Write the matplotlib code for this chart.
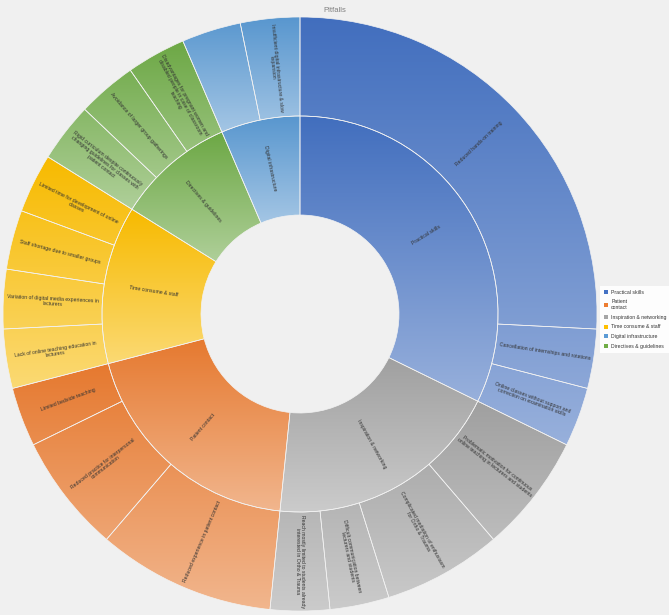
import numpy as np
import matplotlib.pyplot as plt
from matplotlib.patches import Wedge, Patch
from matplotlib.colors import to_rgb
from matplotlib.transforms import Bbox

plt.rcParams['font.family'] = ['Liberation Sans', 'DejaVu Sans']

title = "Pitfalls"

# clockwise from 12 o'clock
categories = ["Practical skills", "Inspiration & networking", "Patient contact",
              "Time consume & staff", "Directives & guidelines", "Digital infrastructure"]

sub_labels = [
    ["Reduced hands-on training",
     "Cancellation of internships and rotations",
     "Online classes without support and\ncorrection on examination skills"],
    ["Problematic motivation for continuous\nonline teaching in lecturers and students",
     "Complicated mediation of enthusiasm\nfor Ortho & Trauma",
     "Difficult communication between\nlecturers and students",
     "Reach mostly limited to students already\ninterested in Ortho & Trauma"],
    ["Reduced experience in patient contact",
     "Reduced practice for interpersonal\ncommunication",
     "Limited bedside teaching"],
    ["Lack of online teaching education in\nlecturers",
     "Variation of digital media experiences in\nlecturers",
     "Staff shortage due to smaller groups",
     "Limited time for development of online\nclasses"],
    ["Rigid curriculum despite continuously\nchanging guidelines for classes with\npatient contact",
     "Avoidance of larger group gatherings",
     "Disadvantages for pregnant women and\ndisabled people in case of classroom\nteaching"],
    ["",
     "Insufficient digital infrastructure & slow\nexpansion"],
]

sub_values = [
    [8, 1, 1],
    [2, 2, 1, 1],
    [3, 2, 1],
    [1, 1, 1, 1],
    [1, 1, 1],
    [1, 1],
]

cat_colors = {
    "Practical skills": "#4472C4",
    "Patient contact": "#ED7D31",
    "Inspiration & networking": "#A5A5A5",
    "Time consume & staff": "#FFC000",
    "Digital infrastructure": "#5B9BD5",
    "Directives & guidelines": "#70AD47",
}

legend_order = ["Practical skills", "Patient contact", "Inspiration & networking",
                "Time consume & staff", "Digital infrastructure", "Directives & guidelines"]
legend_labels = ["Practical skills", "Patient\ncontact", "Inspiration & networking",
                 "Time consume & staff", "Digital infrastructure", "Directives & guidelines"]

R_HOLE, R_MID, R_OUT = 99, 198, 297
TXT = "#333333"
FS = 3.7


def gradient_fill(ax, wedges, color):
    # one top-to-bottom gradient shared by a group of wedges
    bb = Bbox.union([w.get_path().get_extents() for w in wedges])
    top = np.array(to_rgb(color)) * 0.97
    bottom = top + (1 - top) * 0.45
    t = np.linspace(0, 1, 64)[:, None]
    img = (1 - t) * top + t * bottom
    for w in wedges:
        im = ax.imshow(img[:, None, :], extent=[bb.x0, bb.x1, bb.y0, bb.y1],
                       origin='upper', aspect='auto', interpolation='bilinear', zorder=2)
        im.set_clip_path(w)


def make_wedge(ax, r, w, t1, t2):
    wedge = Wedge((0, 0), r, t1, t2, width=w, facecolor='none',
                  edgecolor='#f2f2f2', lw=0.5, zorder=3)
    ax.add_patch(wedge)
    return wedge


def put_label(ax, text, r, t1, t2):
    mid = (t1 + t2) / 2
    a = np.deg2rad(mid)
    if -90 <= mid <= 90:
        rot = mid
    elif mid < -90:
        rot = mid + 180
    else:
        rot = mid - 180
    ax.text(r * np.cos(a), r * np.sin(a), text, ha='center', va='center',
            rotation=rot, rotation_mode='anchor', fontsize=FS, color=TXT,
            multialignment='center', linespacing=1.0, zorder=4)


fig = plt.figure(figsize=(6.69, 6.15), dpi=100)
fig.patch.set_facecolor('#F0F0F0')
ax = fig.add_axes([0, 0, 1, 1])

total = sum(sum(v) for v in sub_values)
unit = 360.0 / total

start = 90.0
for cat, labels, vals in zip(categories, sub_labels, sub_values):
    color = cat_colors[cat]
    c_end = start - sum(vals) * unit
    inner = make_wedge(ax, R_MID, R_MID - R_HOLE, c_end, start)
    gradient_fill(ax, [inner], color)
    put_label(ax, cat, (R_MID + R_HOLE) / 2, c_end, start)
    s = start
    outer = []
    for lab, v in zip(labels, vals):
        e = s - v * unit
        outer.append(make_wedge(ax, R_OUT, R_OUT - R_MID, e, s))
        if lab:
            put_label(ax, lab, (R_OUT + R_MID) / 2, e, s)
        s = e
    gradient_fill(ax, outer, color)
    start = c_end

ax.set_xlim(-300, 369)
ax.set_ylim(-301, 314)
ax.set_aspect('equal')
ax.axis('off')

fig.text(335 / 669, 1 - 10 / 615, title, ha='center', va='center',
         color='#808080', fontsize=5.5)

handles = [Patch(facecolor=cat_colors[c], edgecolor='none') for c in legend_order]
leg = ax.legend(handles, legend_labels, loc='upper left',
                bbox_to_anchor=(597 / 669, 1 - 283 / 615), fontsize=FS,
                frameon=True, facecolor='white', edgecolor='none', framealpha=0.9,
                handlelength=0.8, handleheight=0.8, handletextpad=0.6,
                labelspacing=0.9, borderpad=0.8, fancybox=False)
for t in leg.get_texts():
    t.set_color(TXT)
    t.set_multialignment('center')

fig.savefig('out.png', dpi=100, facecolor=fig.get_facecolor())
